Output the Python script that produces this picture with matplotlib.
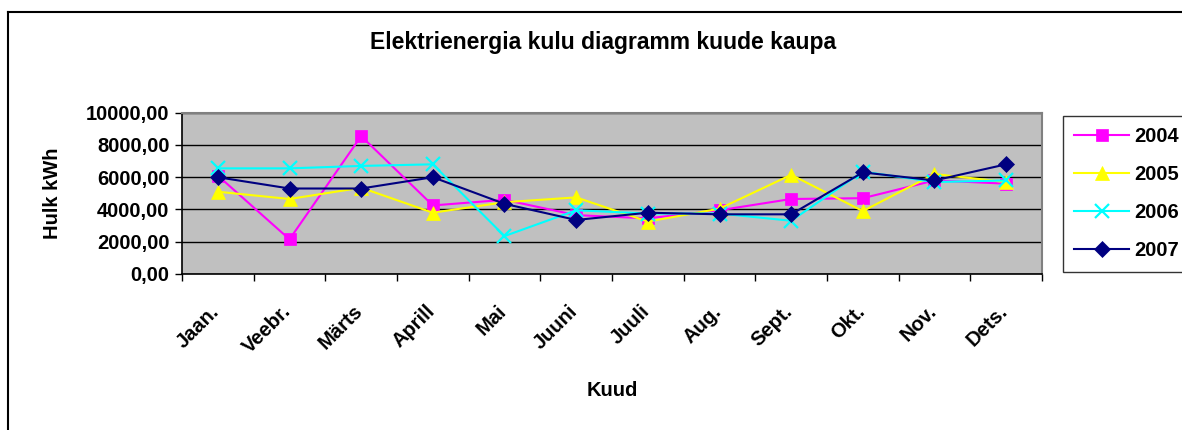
import matplotlib
matplotlib.use("Agg")
import matplotlib.pyplot as plt
import matplotlib.transforms as mtransforms
from matplotlib.ticker import FuncFormatter, FixedLocator
from matplotlib.lines import Line2D

plt.rcParams['font.family'] = ['Liberation Sans', 'DejaVu Sans']

months = ["Jaan.", "Veebr.", "Märts", "Aprill", "Mai", "Juuni", "Juuli", "Aug.", "Sept.", "Okt.", "Nov.", "Dets."]
y2004 = [6100, 2150, 8550, 4250, 4600, 3650, 3450, 3950, 4650, 4700, 5800, 5600]
y2005 = [5100, 4650, 5350, 3800, 4450, 4750, 3250, 4050, 6150, 3900, 6200, 5700]
y2006 = [6550, 6550, 6700, 6800, 2350, 3950, 3750, 3750, 3300, 6350, 5700, 5800]
y2007 = [6000, 5300, 5300, 6000, 4350, 3350, 3800, 3700, 3700, 6300, 5800, 6800]
series_labels = ["2004", "2005", "2006", "2007"]
yticks = [0, 2000, 4000, 6000, 8000, 10000]

W, H = 1182, 430
fig = plt.figure(figsize=(W / 100, H / 100), dpi=100)

# outer chart border (left + top visible)
fig.add_artist(Line2D([8 / W, 8 / W], [0, 1 - 12 / H], transform=fig.transFigure, color='black', lw=1.5))
fig.add_artist(Line2D([8 / W, 1], [1 - 12 / H, 1 - 12 / H], transform=fig.transFigure, color='black', lw=1.5))

ax = fig.add_axes([182 / W, 1 - 274 / H, (1042 - 182) / W, (274 - 112.7) / H])
ax.set_facecolor('#C0C0C0')

x = list(range(len(months)))
styles = [
    (y2004, '#FF00FF', 's', 8.5),
    (y2005, '#FFFF00', '^', 9.5),
    (y2006, '#00FFFF', 'x', 9.5),
    (y2007, '#000080', 'D', 8.0),
]
handles = []
for (vals, col, mk, ms), lab in zip(styles, series_labels):
    h, = ax.plot(x, vals, color=col, marker=mk, markersize=ms, lw=1.5,
                 markeredgewidth=1.6 if mk == 'x' else 0.5, markeredgecolor=col,
                 markerfacecolor=col, label=lab, zorder=3)
    handles.append(h)

ax.set_xlim(-0.5, len(months) - 0.5)
ax.set_ylim(0, 10000)
ax.yaxis.set_major_locator(FixedLocator(yticks))
ax.yaxis.set_major_formatter(FuncFormatter(lambda v, p: f"{v:.2f}".replace('.', ',')))
ax.grid(axis='y', color='black', lw=1, zorder=1)
ax.set_axisbelow(True)

# x ticks at category boundaries, labels at centers
ax.set_xticks([i - 0.5 for i in range(len(months) + 1)])
ax.set_xticklabels([])
ax.set_xticks(x, minor=True)
ax.set_xticklabels(months, minor=True, rotation=45, ha='right', rotation_mode='anchor',
                   fontsize=14.5, fontweight='bold')
ax.tick_params(axis='x', which='minor', length=0, pad=20)
ax.tick_params(axis='x', which='major', length=5, width=1, direction='out')
ax.tick_params(axis='y', length=5, width=1, direction='out', labelsize=14.5, pad=4)
for lbl in ax.get_yticklabels():
    lbl.set_fontweight('bold')
offset = mtransforms.ScaledTranslation(-8 / 100, 0, fig.dpi_scale_trans)
for lbl in ax.get_xticklabels(minor=True):
    lbl.set_transform(lbl.get_transform() + offset)

for s in ['left', 'bottom']:
    ax.spines[s].set_color('black')
    ax.spines[s].set_linewidth(1.2)
for s in ['top', 'right']:
    ax.spines[s].set_color('#808080')
    ax.spines[s].set_linewidth(1.5)

fig.text(603 / W, 1 - 42 / H, "Elektrienergia kulu diagramm kuude kaupa", ha='center', va='center',
         fontsize=16.5, fontweight='bold')
fig.text(52 / W, 1 - 193 / H, "Hulk kWh", rotation=90, ha='center', va='center',
         fontsize=14.5, fontweight='bold')
fig.text(612 / W, 1 - 390 / H, "Kuud", ha='center', va='center', fontsize=14.5, fontweight='bold')

leg = fig.legend(handles=handles, loc='upper left', bbox_to_anchor=(1063 / W, 1 - 116 / H),
                 prop={'weight': 'bold', 'size': 14.5}, frameon=True, fancybox=False,
                 edgecolor='black', handlelength=2.75, handletextpad=0.25, labelspacing=0.95,
                 borderpad=0.55, borderaxespad=0)
leg.get_frame().set_linewidth(1.0)

fig.savefig("out.png", dpi=100)
